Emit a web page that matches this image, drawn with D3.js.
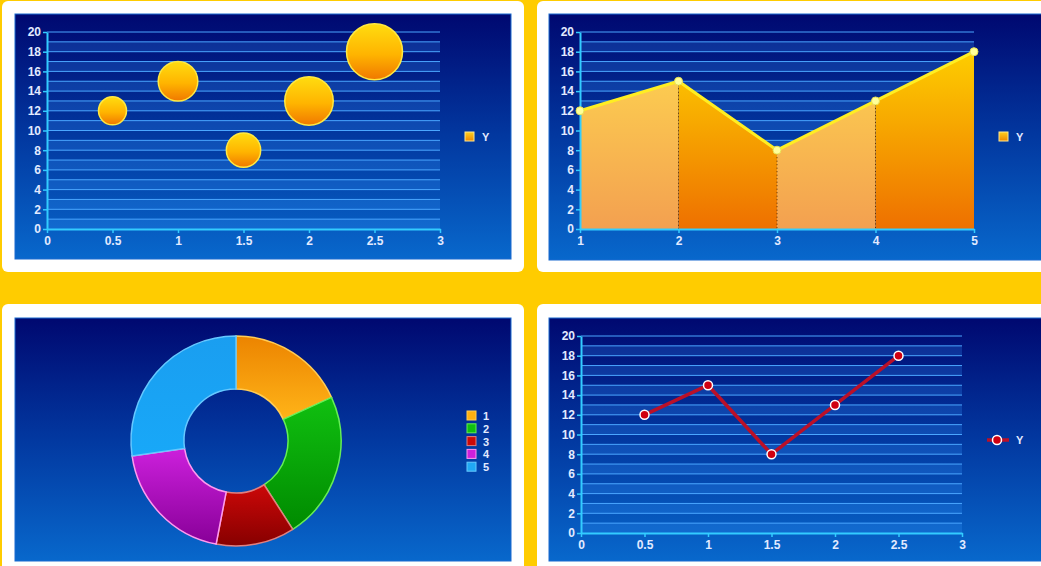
<!DOCTYPE html>
<html>
<head>
<meta charset="utf-8">
<script src="https://cdn.jsdelivr.net/npm/d3@7"></script>
<style>
  body { margin: 0; background: #ffcc00; }
  text { font-family: "Liberation Sans", Arial, sans-serif; font-weight: bold; }
</style>
</head>
<body>
<div id="vis"></div>
<script>
// data
const seriesName = "Y";
const bubbleX = [0.5, 1, 1.5, 2, 2.5];
const bubbleY = [12, 15, 8, 13, 18];
const bubbleSize = [1, 2, 1.5, 3, 4];
const areaX = [1, 2, 3, 4, 5];
const areaY = [12, 15, 8, 13, 18];
const donutLabels = ["1", "2", "3", "4", "5"];
const donutValues = [12, 15, 8, 13, 18];
const lineX = [0.5, 1, 1.5, 2, 2.5];
const lineY = [12, 15, 8, 13, 18];
const yTicks = [0, 2, 4, 6, 8, 10, 12, 14, 16, 18, 20];
const halfTicks = [0, 0.5, 1, 1.5, 2, 2.5, 3];
const areaTicks = [1, 2, 3, 4, 5];

function drawChart() {

    const svg = d3.select("#vis")
        .append("svg")
        .attr("width", 1041)
        .attr("height", 566);

    const defs = svg.append("defs");

    // ----------------
    // gradients
    // ----------------
    function linGrad(id, stops, attrs) {
        const g = defs.append("linearGradient").attr("id", id)
            .attr("x1", 0).attr("y1", 0).attr("x2", 0).attr("y2", 1);
        if (attrs) Object.entries(attrs).forEach(([k, v]) => g.attr(k, v));
        stops.forEach(s => g.append("stop").attr("offset", s[0]).attr("stop-color", s[1]));
        return g;
    }
    linGrad("bg", [[0, "#000870"], [0.5, "#0238a0"], [1, "#0868cc"]]);
    linGrad("bubble", [[0, "#ffdc10"], [0.55, "#ffb400"], [1, "#f07800"]]);
    linGrad("legendSq", [[0, "#ffd020"], [1, "#f08800"]]);

    svg.append("rect").attr("width", 1041).attr("height", 566).attr("fill", "#ffcc00");

    const panels = [
        {x: 2, y: 1, w: 522, h: 271, bx: 15, by: 14, bw: 496, bh: 245},
        {x: 537, y: 1, w: 530, h: 271, bx: 549, by: 14, bw: 500, bh: 246},
        {x: 2, y: 304, w: 522, h: 280, bx: 15, by: 318, bw: 496, bh: 243},
        {x: 537, y: 304, w: 530, h: 280, bx: 549, by: 318, bw: 500, bh: 243}
    ];
    panels.forEach(p => {
        svg.append("rect").attr("x", p.x).attr("y", p.y).attr("width", p.w).attr("height", p.h)
            .attr("rx", 6).attr("fill", "#ffffff");
        svg.append("rect").attr("x", p.bx).attr("y", p.by).attr("width", p.bw).attr("height", p.bh)
            .attr("fill", "url(#bg)").attr("stroke", "#1a6ad0").attr("stroke-width", 1);
    });

    // ----------------
    // shared grid + axes
    // ----------------
    function drawGrid(xScale, yScale) {
        const g = svg.append("g");
        const [x0, x1] = xScale.range();
        d3.range(0, 20, 2).forEach(v => {
            g.append("rect")
                .attr("x", x0).attr("width", x1 - x0)
                .attr("y", yScale(v + 1)).attr("height", yScale(v) - yScale(v + 1))
                .attr("fill", "#3a9cff").attr("opacity", 0.22);
        });
        d3.range(1, 21).forEach(v => {
            g.append("line")
                .attr("x1", x0).attr("x2", x1)
                .attr("y1", yScale(v)).attr("y2", yScale(v))
                .attr("stroke", "#4aa6ff").attr("stroke-width", 1);
        });
    }

    function drawAxes(xScale, yScale, xTicks) {
        const yAxis = svg.append("g")
            .attr("transform", `translate(${xScale.range()[0]},0)`)
            .call(d3.axisLeft(yScale).tickValues(yTicks).tickSize(4).tickPadding(2).tickSizeOuter(0));
        const xAxis = svg.append("g")
            .attr("transform", `translate(0,${yScale(0)})`)
            .call(d3.axisBottom(xScale).tickValues(xTicks).tickSize(4).tickPadding(3).tickSizeOuter(0)
                .tickFormat(d3.format("")));
        [xAxis, yAxis].forEach(a => {
            a.attr("font-size", 12);
            a.select(".domain").attr("stroke", "#33ccff").attr("stroke-width", 2);
            a.selectAll(".tick line").attr("stroke", "#33ccff").attr("stroke-width", 1.5);
            a.selectAll(".tick text").attr("fill", "#e2eaff").attr("font-size", 12)
                .attr("font-weight", "bold").attr("font-family", "'Liberation Sans', Arial, sans-serif");
        });
    }

    // ----------------
    // 1. bubble chart
    // ----------------
    const x1 = d3.scaleLinear().domain([0, 3]).range([47, 440]);
    const y1 = d3.scaleLinear().domain([0, 20]).range([229, 32]);
    const r1 = d3.scaleSqrt().domain([0, 4]).range([0, 28]);
    drawGrid(x1, y1);
    drawAxes(x1, y1, halfTicks);

    svg.append("g").selectAll("circle")
        .data(d3.range(bubbleX.length))
        .join("circle")
        .attr("cx", i => x1(bubbleX[i]))
        .attr("cy", i => y1(bubbleY[i]))
        .attr("r", i => r1(bubbleSize[i]))
        .attr("fill", "url(#bubble)")
        .attr("stroke", "#ffe840")
        .attr("stroke-width", 1.5);

    svg.append("rect").attr("x", 465).attr("y", 132).attr("width", 9).attr("height", 9)
        .attr("fill", "url(#legendSq)").attr("stroke", "#ffe890").attr("stroke-width", 1);
    svg.append("text").attr("x", 482).attr("y", 141).attr("fill", "#e2eaff")
        .attr("font-size", 11).text(seriesName);

    // ----------------
    // 2. area chart
    // ----------------
    const x2 = d3.scaleLinear().domain([1, 5]).range([580, 974]);
    const y2 = d3.scaleLinear().domain([0, 20]).range([229, 32]);
    drawGrid(x2, y2);

    linGrad("areaLight", [[0, "#ffda50"], [1, "#f3a050"]],
        {gradientUnits: "userSpaceOnUse", x1: 0, y1: y2(20), x2: 0, y2: y2(0)});
    linGrad("areaDark", [[0, "#ffd800"], [1, "#ee7000"]],
        {gradientUnits: "userSpaceOnUse", x1: 0, y1: y2(20), x2: 0, y2: y2(0)});

    const areaGen = d3.area().x(d => x2(d[0])).y0(y2(0)).y1(d => y2(d[1]));
    const pts = areaX.map((x, i) => [x, areaY[i]]);
    d3.range(pts.length - 1).forEach(i => {
        svg.append("path")
            .attr("d", areaGen([pts[i], pts[i + 1]]))
            .attr("fill", i % 2 === 0 ? "url(#areaLight)" : "url(#areaDark)");
    });
    pts.slice(1, -1).forEach(p => {
        svg.append("line")
            .attr("x1", x2(p[0])).attr("x2", x2(p[0]))
            .attr("y1", y2(p[1])).attr("y2", y2(0))
            .attr("stroke", "#5a2a00").attr("stroke-width", 1).attr("stroke-dasharray", "1,2.5");
    });
    drawAxes(x2, y2, areaTicks);

    svg.append("path")
        .attr("d", d3.line().x(d => x2(d[0])).y(d => y2(d[1]))(pts))
        .attr("fill", "none").attr("stroke", "#ffee22").attr("stroke-width", 3);
    svg.append("g").selectAll("circle").data(pts).join("circle")
        .attr("cx", d => x2(d[0])).attr("cy", d => y2(d[1])).attr("r", 4)
        .attr("fill", "#ffff99").attr("stroke", "#e8e050").attr("stroke-width", 1);

    svg.append("rect").attr("x", 999).attr("y", 132).attr("width", 9).attr("height", 9)
        .attr("fill", "url(#legendSq)").attr("stroke", "#ffe890").attr("stroke-width", 1);
    svg.append("text").attr("x", 1016).attr("y", 141).attr("fill", "#e2eaff")
        .attr("font-size", 11).text(seriesName);

    // ----------------
    // 3. donut
    // ----------------
    const donutFill = [["#ec8400", "#ffb418"], ["#10c010", "#008a00"], ["#cc0808", "#860000"],
                       ["#cc20dc", "#880098"], ["#1a9ef0", "#18a8f8"]];
    const donutStroke = ["#ffcc55", "#66ee55", "#e08080", "#ff99ee", "#66c8ff"];
    donutFill.forEach((c, i) => linGrad("slice" + i, [[0, c[0]], [1, c[1]]]));

    const pie = d3.pie().sort(null).value(d => d);
    const arc = d3.arc().innerRadius(52).outerRadius(105);
    const donut = svg.append("g").attr("transform", "translate(236,441)");
    donut.selectAll("path")
        .data(pie(donutValues))
        .join("path")
        .attr("d", arc)
        .attr("fill", (d, i) => `url(#slice${i})`)
        .attr("stroke", (d, i) => donutStroke[i])
        .attr("stroke-width", 1.5);

    const legColors = ["#ffb010", "#10c010", "#cc0808", "#cc20dc", "#20a8f4"];
    const leg = svg.append("g").attr("transform", "translate(467,411)");
    donutLabels.forEach((lab, i) => {
        leg.append("rect").attr("x", 0).attr("y", i * 12.8).attr("width", 9).attr("height", 9)
            .attr("fill", legColors[i]).attr("stroke", donutStroke[i]).attr("stroke-width", 1);
        leg.append("text").attr("x", 16).attr("y", i * 12.8 + 9).attr("fill", "#e2eaff")
            .attr("font-size", 11).text(lab);
    });

    // ----------------
    // 4. line chart
    // ----------------
    const x4 = d3.scaleLinear().domain([0, 3]).range([581, 962]);
    const y4 = d3.scaleLinear().domain([0, 20]).range([533, 336]);
    drawGrid(x4, y4);
    drawAxes(x4, y4, halfTicks);

    const lpts = lineX.map((x, i) => [x, lineY[i]]);
    svg.append("path")
        .attr("d", d3.line().x(d => x4(d[0])).y(d => y4(d[1]))(lpts))
        .attr("fill", "none").attr("stroke", "#bb1028").attr("stroke-width", 3.5);
    svg.append("g").selectAll("circle").data(lpts).join("circle")
        .attr("cx", d => x4(d[0])).attr("cy", d => y4(d[1])).attr("r", 4.5)
        .attr("fill", "#d00010").attr("stroke", "#ffffff").attr("stroke-width", 1.5);

    svg.append("line").attr("x1", 987).attr("x2", 1009).attr("y1", 440).attr("y2", 440)
        .attr("stroke", "#bb1028").attr("stroke-width", 3.5);
    svg.append("circle").attr("cx", 997).attr("cy", 440).attr("r", 4.5)
        .attr("fill", "#d00010").attr("stroke", "#ffffff").attr("stroke-width", 1.5);
    svg.append("text").attr("x", 1016).attr("y", 444).attr("fill", "#e2eaff")
        .attr("font-size", 11).text(seriesName);
}

drawChart();
</script>
</body>
</html>
